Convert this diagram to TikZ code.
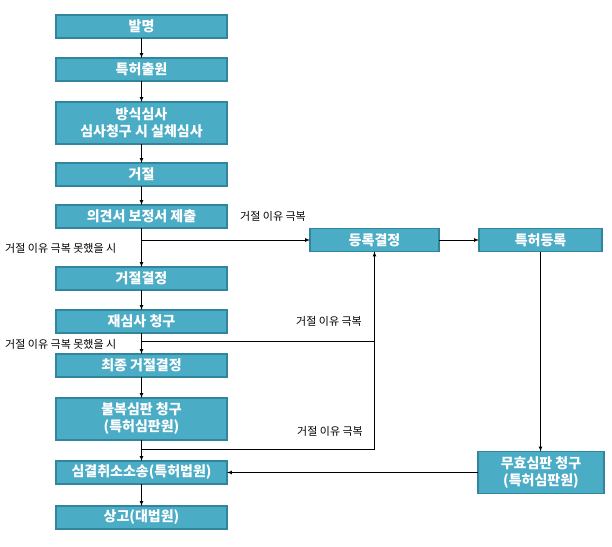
\documentclass[tikz,border=0pt]{standalone}
\usepackage{fontspec}
\setmainfont{Noto Sans CJK KR}
\usetikzlibrary{arrows, positioning}
\definecolor{boxfill}{HTML}{4BACC6}
\definecolor{boxline}{HTML}{31859C}
\tikzstyle{rect} = [draw=boxline, line width=1.5pt, rectangle, fill=boxfill, text=white, minimum width=171pt, minimum height=23pt, inner sep=0pt, outer sep=0pt, align=center, font=\fontsize{14}{17}\selectfont\bfseries]
\tikzstyle{tall} = [minimum height=42pt]
\tikzstyle{note} = [inner sep=0pt, font=\fontsize{11}{13}\selectfont]
\tikzstyle{line} = [draw, line width=0.7pt, -latex]

\begin{document}
\begin{tikzpicture}[x=1pt, y=1pt]
	\useasboundingbox (0,0) rectangle (612,-546);
	\node [rect] (invent) at (141.5,-26.5) {발명};
	\node [rect, below=20pt of invent] (apply) {특허출원};
	\node [rect, tall, below=21pt of apply] (exam) {방식심사\\심사청구 시 실체심사};
	\node [rect, below=19pt of exam] (reject) {거절};
	\node [rect, below=19pt of reject] (opinion) {의견서 보정서 제출};
	\node [rect, below=39pt of opinion] (refusal) {거절결정};
	\node [rect, below=20pt of refusal] (reexam) {재심사 청구};
	\node [rect, below=21pt of reexam] (final) {최종 거절결정};
	\node [rect, tall, below=21pt of final] (appeal) {불복심판 청구\\(특허심판원)};
	\node [rect, below=21pt of appeal] (lawsuit) {심결취소소송(특허법원)};
	\node [rect, below=22pt of lawsuit] (supreme) {상고(대법원)};
	
	\node [rect, minimum width=129pt, right=83pt of opinion, yshift=-23.5pt] (grant) {등록결정};
	\node [rect, minimum width=123pt, right=40pt of grant] (register) {특허등록};
	\node [rect, tall, minimum width=126pt, right=251pt of lawsuit] (invalid) {무효심판 청구\\(특허심판원)};
	
	\coordinate (b1) at (opinion.south |- grant.west);
	\coordinate [below=8pt of reexam] (b2);
	\coordinate [below=9pt of appeal] (b3);
	
	\node [note, right=13pt of opinion] (overcome1) {거절 이유 극복};
	\node [note, left=25pt of b1, yshift=-8pt] (fail1) {거절 이유 극복 못했을 시};
	\node [note, right=69pt of reexam] (overcome2) {거절 이유 극복};
	\node [note, left=25pt of b2, yshift=-3pt] (fail2) {거절 이유 극복 못했을 시};
	\node [note, right=70pt of appeal, yshift=-12pt] (overcome3) {거절 이유 극복};
	
	\path [line] (invent) -- (apply);
	\path [line] (apply) -- (exam);
	\path [line] (exam) -- (reject);
	\path [line] (reject) -- (opinion);
	\path [line] (opinion) -- (refusal);
	\path [line] (refusal) -- (reexam);
	\path [line] (reexam) -- (final);
	\path [line] (final) -- (appeal);
	\path [line] (appeal) -- (lawsuit);
	\path [line] (lawsuit) -- (supreme);
	\path [line] (b1) -- (grant);
	\path [line] (grant) -- (register);
	\path [line] (register.south) -- (register.south |- invalid.north);
	\path [line] (invalid) -- (lawsuit);
	\path [line] (b2) -| (grant.south);
	\draw [line width=0.7pt] (b3) -| (grant.south);
\end{tikzpicture}
\end{document}
